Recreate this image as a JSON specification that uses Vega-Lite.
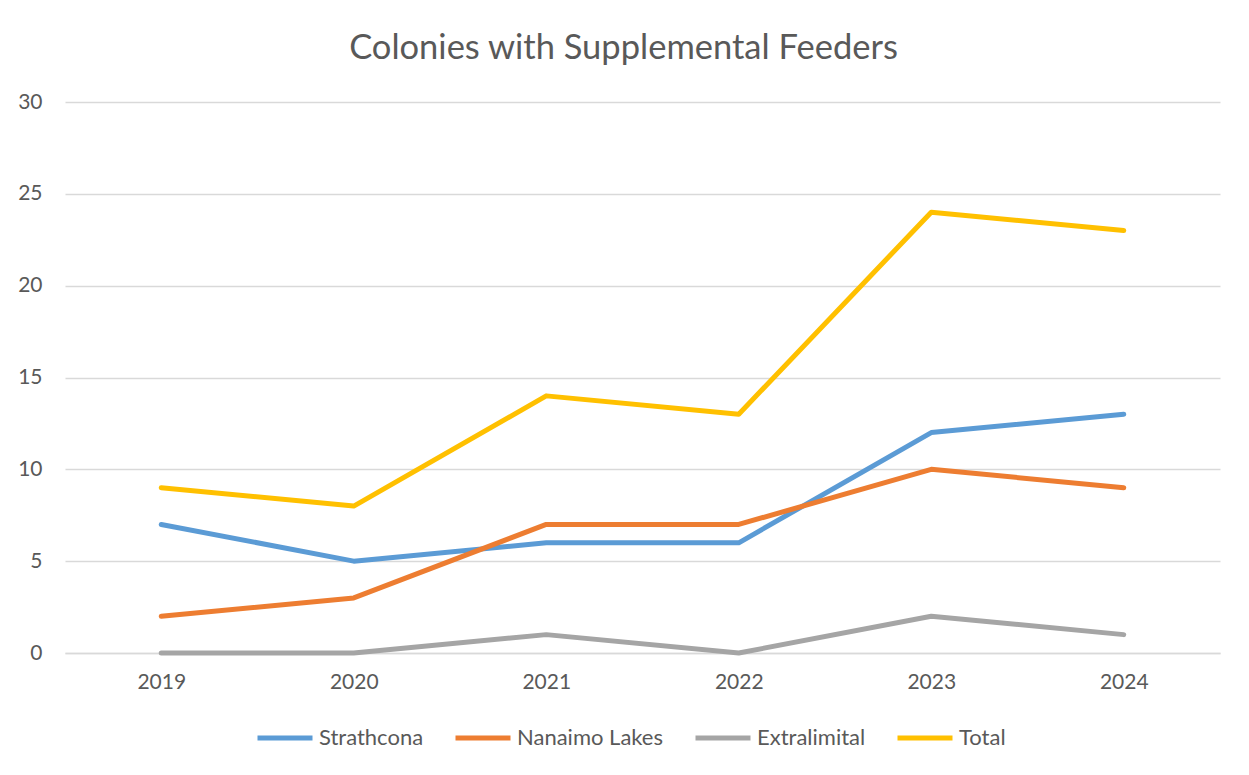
{
  "$schema": "https://vega.github.io/schema/vega-lite/v6.json",
  "autosize": {"type": "none"},
  "width": 1155,
  "height": 551,
  "padding": {"left": 65, "top": 102, "right": 29, "bottom": 122},
  "background": "white",
  "title": {
    "text": "Colonies with Supplemental Feeders",
    "font": "Lato",
    "fontSize": 34.5,
    "fontWeight": "normal",
    "color": "#595959",
    "anchor": "middle",
    "baseline": "alphabetic",
    "offset": -2,
    "dx": -19
  },
  "data": {
    "values": [
      {"year": "2019", "series": "Strathcona", "value": 7},
      {"year": "2020", "series": "Strathcona", "value": 5},
      {"year": "2021", "series": "Strathcona", "value": 6},
      {"year": "2022", "series": "Strathcona", "value": 6},
      {"year": "2023", "series": "Strathcona", "value": 12},
      {"year": "2024", "series": "Strathcona", "value": 13},
      {"year": "2019", "series": "Nanaimo Lakes", "value": 2},
      {"year": "2020", "series": "Nanaimo Lakes", "value": 3},
      {"year": "2021", "series": "Nanaimo Lakes", "value": 7},
      {"year": "2022", "series": "Nanaimo Lakes", "value": 7},
      {"year": "2023", "series": "Nanaimo Lakes", "value": 10},
      {"year": "2024", "series": "Nanaimo Lakes", "value": 9},
      {"year": "2019", "series": "Extralimital", "value": 0},
      {"year": "2020", "series": "Extralimital", "value": 0},
      {"year": "2021", "series": "Extralimital", "value": 1},
      {"year": "2022", "series": "Extralimital", "value": 0},
      {"year": "2023", "series": "Extralimital", "value": 2},
      {"year": "2024", "series": "Extralimital", "value": 1},
      {"year": "2019", "series": "Total", "value": 9},
      {"year": "2020", "series": "Total", "value": 8},
      {"year": "2021", "series": "Total", "value": 14},
      {"year": "2022", "series": "Total", "value": 13},
      {"year": "2023", "series": "Total", "value": 24},
      {"year": "2024", "series": "Total", "value": 23}
    ]
  },
  "mark": {"type": "line", "strokeWidth": 5, "strokeCap": "round", "strokeJoin": "round"},
  "encoding": {
    "x": {
      "field": "year",
      "type": "ordinal",
      "scale": {"type": "point", "padding": 0.5},
      "axis": {
        "title": null,
        "labelAngle": 0,
        "labelFont": "Lato",
        "labelFontSize": 21,
        "labelColor": "#595959",
        "labelPadding": 18,
        "ticks": false,
        "domain": true,
        "domainColor": "#D9D9D9",
        "domainWidth": 1.5,
        "grid": false
      }
    },
    "y": {
      "field": "value",
      "type": "quantitative",
      "scale": {"domain": [0, 30], "nice": false},
      "axis": {
        "title": null,
        "values": [0, 5, 10, 15, 20, 25, 30],
        "labelFont": "Lato",
        "labelFontSize": 21,
        "labelColor": "#595959",
        "labelPadding": 23,
        "ticks": false,
        "domain": false,
        "grid": true,
        "gridColor": "#D9D9D9",
        "gridWidth": 1.5
      }
    },
    "color": {
      "field": "series",
      "type": "nominal",
      "scale": {
        "domain": ["Strathcona", "Nanaimo Lakes", "Extralimital", "Total"],
        "range": ["#5B9BD5", "#ED7D31", "#A5A5A5", "#FFC000"]
      },
      "legend": {
        "title": null,
        "orient": "none",
        "direction": "horizontal",
        "legendX": 190,
        "legendY": 606,
        "symbolType": "stroke",
        "symbolSize": 3025,
        "symbolStrokeWidth": 5,
        "labelFont": "Lato",
        "labelFontSize": 22,
        "labelColor": "#595959",
        "labelOffset": 4,
        "columnPadding": 21
      }
    }
  },
  "config": {
    "view": {"stroke": null}
  }
}
